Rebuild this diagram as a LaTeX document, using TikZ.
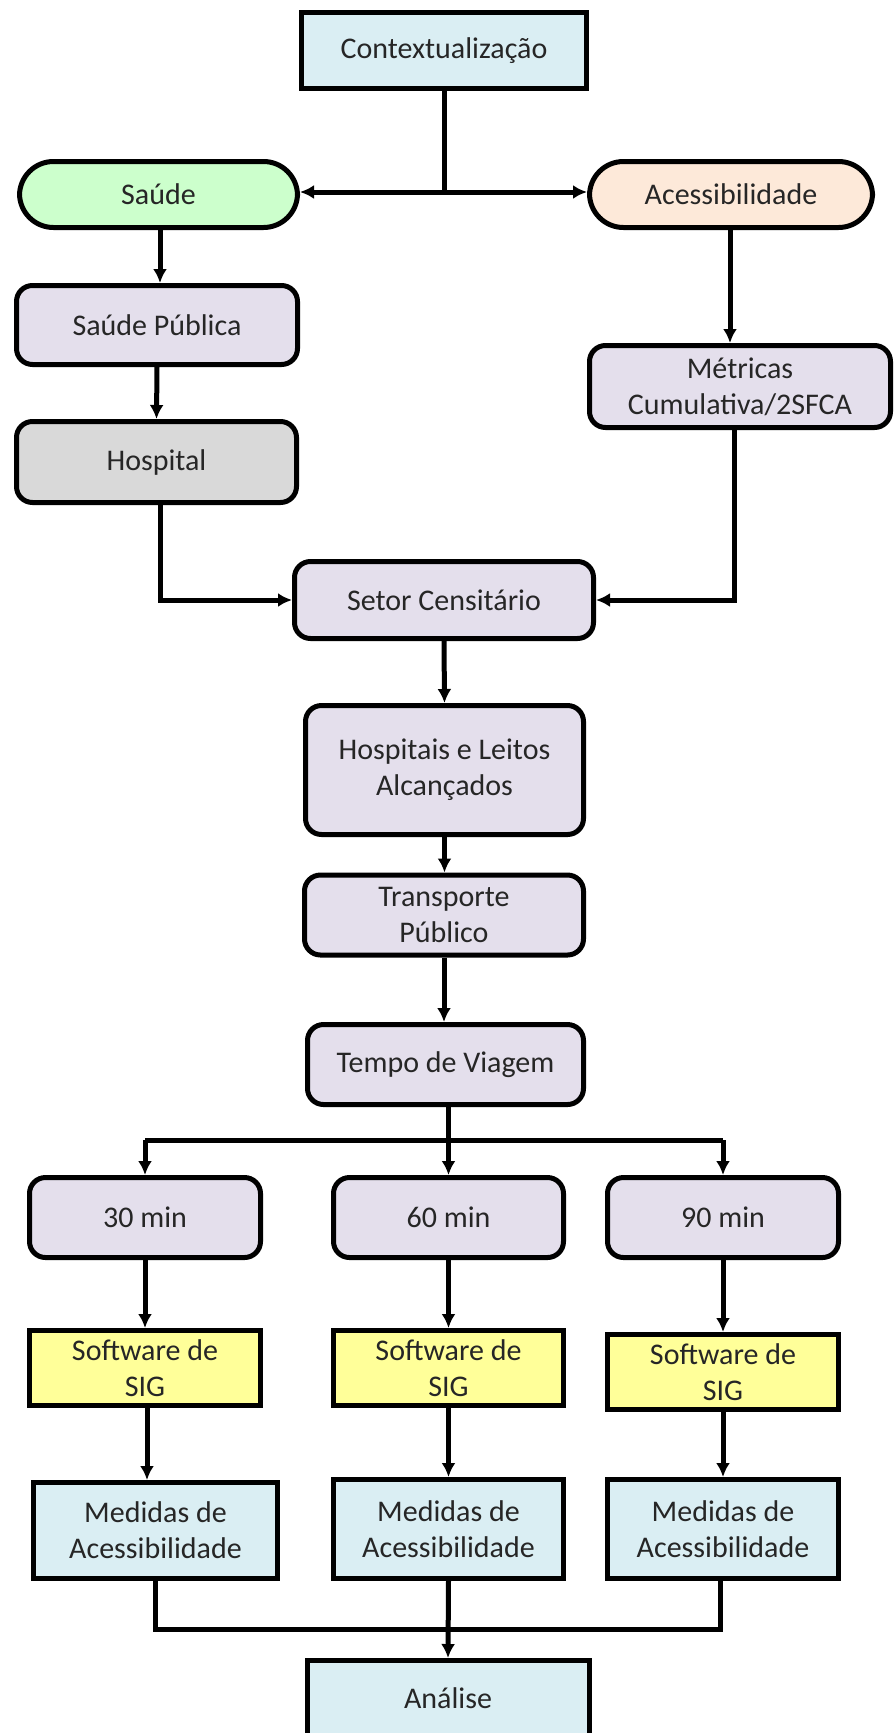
\documentclass[tikz,border=0pt]{standalone}
\usepackage{fontspec}
\setmainfont{Carlito}
\usetikzlibrary{arrows.meta,calc}
\definecolor{cblue}{HTML}{DAEEF3}
\definecolor{cgreen}{HTML}{CCFFCC}
\definecolor{cpeach}{HTML}{FDE9D9}
\definecolor{clav}{HTML}{E4DFEC}
\definecolor{cgray}{HTML}{D9D9D9}
\definecolor{cyel}{HTML}{FFFF99}
\definecolor{ctext}{HTML}{262626}
\tikzset{
  base/.style={draw=black, line width=5pt, align=center, text=ctext,
    font=\fontsize{30}{36}\selectfont, inner sep=2pt},
  sqbox/.style={base, rectangle},
  rbox/.style={base, rectangle, rounded corners=16pt},
  pill/.style={base, rectangle, rounded corners=34pt},
  conn/.style={line width=5pt, draw=black},
  arr/.style={conn, -{Latex[length=14pt,width=14pt]}},
}
\begin{document}
\begin{tikzpicture}[x=1pt,y=-1pt]
\useasboundingbox (0,0) rectangle (894,1733);
\node[sqbox, fill=cblue, minimum width=285pt, minimum height=76pt] (ctx) at (444,50.5) {Contextualização};
\node[pill, fill=cgreen, minimum width=278pt, minimum height=66pt] (saude) at (158.5,194.5) {Saúde};
\node[pill, fill=cpeach, minimum width=283pt, minimum height=66pt] (acess) at (731,194.5) {Acessibilidade};
\node[rbox, fill=clav, minimum width=281pt, minimum height=79pt] (sp) at (157,325) {Saúde Pública};
\node[rbox, fill=clav, minimum width=301pt, minimum height=82pt] (met) at (740,386.5) {Métricas\\Cumulativa/2SFCA};
\node[rbox, fill=cgray, minimum width=280pt, minimum height=81pt] (hosp) at (156.5,462) {Hospital};
\node[rbox, fill=clav, minimum width=299pt, minimum height=77pt] (setor) at (444,600) {Setor Censitário};
\node[rbox, fill=clav, minimum width=278pt, minimum height=129pt] (hl) at (444.5,770) {Hospitais e Leitos\\Alcançados};
\node[rbox, fill=clav, minimum width=279pt, minimum height=80pt] (tp) at (444,915) {Transporte\\Público};
\node[rbox, fill=clav, minimum width=276pt, minimum height=80pt] (tv) at (445.5,1064.5) {Tempo de Viagem};
\node[rbox, fill=clav, minimum width=231pt, minimum height=80pt] (m30) at (145,1217.5) {30 min};
\node[rbox, fill=clav, minimum width=230pt, minimum height=80pt] (m60) at (448.5,1217.5) {60 min};
\node[rbox, fill=clav, minimum width=231pt, minimum height=80pt] (m90) at (723,1217.5) {90 min};
\node[sqbox, fill=cyel, minimum width=231pt, minimum height=75pt] (sig1) at (145,1368) {Software de\\SIG};
\node[sqbox, fill=cyel, minimum width=230pt, minimum height=75pt] (sig2) at (448.5,1368) {Software de\\SIG};
\node[sqbox, fill=cyel, minimum width=231pt, minimum height=75pt] (sig3) at (723,1372) {Software de\\SIG};
\node[sqbox, fill=cblue, minimum width=244pt, minimum height=96pt] (med1) at (155.5,1530.5) {Medidas de\\Acessibilidade};
\node[sqbox, fill=cblue, minimum width=230pt, minimum height=99pt] (med2) at (448.5,1529) {Medidas de\\Acessibilidade};
\node[sqbox, fill=cblue, minimum width=231pt, minimum height=99pt] (med3) at (723,1529) {Medidas de\\Acessibilidade};
\node[sqbox, fill=cblue, minimum width=282pt, minimum height=75pt] (ana) at (448,1698) {Análise};
% connectors
\coordinate (j1) at (ctx.south |- 0,192);
\draw[conn] (ctx.south) -- (j1);
\draw[arr] (j1) -- (saude.east |- j1);
\draw[arr] (j1) -- (acess.west |- j1);
\draw[arr] ($(saude.south)+(1.5,0)$) -- ($(sp.north)+(3,0)$);
\draw[arr] (sp.south) -- (hosp.north);
\draw[arr] ($(acess.south)+(-1,0)$) -- ($(met.north)+(-10,0)$);
\draw[arr] ($(hosp.south)+(3.5,0)$) |- (setor.west);
\draw[arr] ($(met.south)+(-6,0)$) |- (setor.east);
\draw[arr] (setor.south) -- (hl.north);
\draw[arr] (hl.south) -- (hl.south |- tp.north);
\draw[arr] (tp.south) -- (tp.south |- tv.north);
\coordinate (j2) at ($(tv.south |- 0,1140)+(3,0)$);
\draw[conn] ($(tv.south)+(3,0)$) -- (j2);
\draw[conn] (m30.north |- j2) -- (m90.north |- j2);
\draw[arr] (m30.north |- j2) -- (m30.north);
\draw[arr] (j2) -- (m60.north);
\draw[arr] (m90.north |- j2) -- (m90.north);
\draw[arr] (m30.south) -- (sig1.north);
\draw[arr] (m60.south) -- (sig2.north);
\draw[arr] (m90.south) -- (sig3.north);
\draw[arr] ($(sig1.south)+(2,0)$) -- ($(sig1.south |- med1.north)+(2,0)$);
\draw[arr] (sig2.south) -- (med2.north);
\draw[arr] (sig3.south) -- (med3.north);
\coordinate (j3) at (med2.south |- 0,1629);
\draw[conn] (med1.south) -- (med1.south |- j3) -- ($(med3.south |- j3)+(-3,0)$) -- ($(med3.south)+(-3,0)$);
\draw[arr] (med2.south) -- (ana.north);
\end{tikzpicture}
\end{document}
